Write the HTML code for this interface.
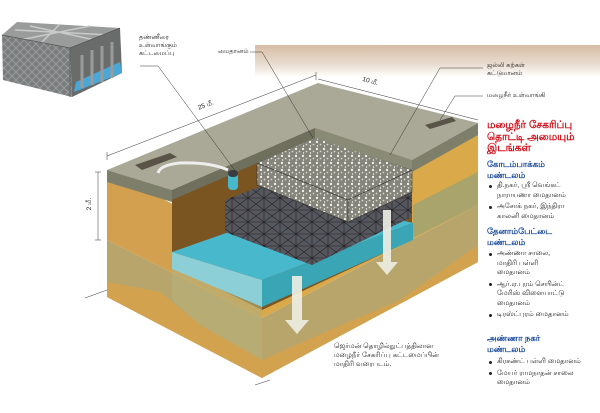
<!DOCTYPE html>
<html><head><meta charset="utf-8"><style>
body{margin:0;width:600px;height:413px;background:#fff;overflow:hidden;position:relative;font-family:"Liberation Sans","Noto Sans CJK SC",sans-serif}
.t{position:absolute;font-size:6.5px;line-height:8px;color:#222;white-space:nowrap}
.p{position:absolute;left:487px;color:#222;font-size:7px;line-height:9.5px;white-space:nowrap}
.h1{color:#d0101a;font-size:10.5px;line-height:11.5px;font-weight:bold}
.h2{color:#1a4a9a;font-size:8.5px;line-height:10.5px;font-weight:bold}
.b{padding-left:10px;position:relative;margin-bottom:2px}
.b:before{content:"";position:absolute;left:2px;top:3.5px;width:3px;height:3px;border-radius:50%;background:#222}
</style></head><body>
<svg width="600" height="413" style="position:absolute;left:0;top:0">
<defs>
<linearGradient id="sand" x1="0" y1="0" x2="0" y2="1"><stop offset="0" stop-color="#d6bca6"/><stop offset="0.6" stop-color="#e9ddd0"/><stop offset="1" stop-color="#fff"/></linearGradient>
<pattern id="grav" width="7" height="7" patternUnits="userSpaceOnUse"><rect width="7" height="7" fill="#84847a"/><circle cx="2" cy="2" r="1.2" fill="#eeeee6"/><circle cx="5.5" cy="4.5" r="0.9" fill="#d8d8d0"/><circle cx="2.5" cy="6" r="0.7" fill="#f4f4ee"/></pattern>
<pattern id="mesh" width="16" height="12" patternUnits="userSpaceOnUse"><rect width="16" height="12" fill="#56565e"/><path d="M0 0L16 12M16 0L0 12M8 0V12M0 6H16" stroke="#222" stroke-width="0.6"/></pattern>
<pattern id="lat" width="8" height="8" patternUnits="userSpaceOnUse"><rect width="8" height="8" fill="#7a7d7d"/><path d="M0 0L8 8M8 0L0 8" stroke="#9da0a0" stroke-width="0.8"/></pattern>
</defs>
<rect x="255" y="45" width="345" height="32" fill="url(#sand)"/>
<polygon points="2,35 17,22 120,28 70,48" fill="#9a9c9c"/>
<path d="M15,30L110,35M30,26L95,40M60,24L40,44M90,26L20,40" stroke="#c8caca" stroke-width="1.5"/>
<polygon points="2,35 70,48 72,97 3,80" fill="url(#lat)"/>
<polygon points="70,48 120,28 122,73 72,97" fill="#6a6c6c"/>
<polygon points="76,82 120,62 122,73 74,92" fill="#4aa8d8"/>
<path d="M82,55V88M92,50V85M102,46V82M112,42V78" stroke="#9a9c9c" stroke-width="3"/>
<path d="M2,35L70,48L120,28M70,48V97" stroke="#555" stroke-width="0.8" fill="none"/>
<polygon points="107,240 262,318 478,205 478,262 262,378 107,297" fill="#b7a56c"/>
<polygon points="107,282 160,292 200,325 262,360 330,330 400,300 478,245 478,262 262,378 107,297" fill="#d3a24e"/>
<polygon points="107,170 262,250 262,318 107,240" fill="#d2a04e"/>
<polygon points="262,250 478,125 478,205 262,318" fill="#d9a94a"/>
<polygon points="413,205 478,172 478,205 413,238" fill="#a9a46c"/>
<polygon points="172,190 315,128 412,160 412,240 262,310 172,265" fill="#7a5522"/>
<polygon points="172,252 320,200 413,223 262,280" fill="#48b8cc"/>
<polygon points="172,252 262,280 262,307 172,269" fill="#8ccfd6"/>
<polygon points="262,280 413,223 413,240 262,307" fill="#3aa5b5"/>
<polygon points="172,269 262,307 262,360 200,325 172,300" fill="#b8b27a" opacity="0.6"/>
<polygon points="225,200 290,175 412,192 312,245" fill="url(#mesh)"/>
<polygon points="225,200 312,245 312,265 225,232" fill="url(#mesh)"/>
<polygon points="312,245 412,192 412,217 312,265" fill="url(#mesh)"/>
<polygon points="257,163 315,137 412,170 348,200" fill="url(#grav)" stroke="#333" stroke-width="0.6"/>
<polygon points="257,163 348,200 348,222 257,185" fill="url(#grav)" stroke="#333" stroke-width="0.6"/>
<polygon points="348,200 412,170 412,192 348,222" fill="url(#grav)" stroke="#333" stroke-width="0.6"/>
<polygon points="107,170 318,83 478,123 412,160 315,128 172,190" fill="#aaa897"/>
<polygon points="107,170 172,190 172,202 107,182" fill="#7e7f6a"/>
<polygon points="172,190 315,128 315,138 172,200" fill="#6e6f5c"/>
<polygon points="315,128 412,160 412,170 315,138" fill="#8a8b76"/>
<polygon points="412,160 478,123 478,135 412,172" fill="#7e7f6a"/>
<polygon points="135,165 170,153 177,157 142,170" fill="#5a5448"/>
<polygon points="425,125 452,117 456,121 430,129" fill="#5a5448"/>
<path d="M158,173 Q160,165 180,163 Q210,162 228,170" stroke="#eee" stroke-width="3" fill="none"/>
<rect x="228" y="172" width="10" height="18" rx="4" fill="#48b8cc"/>
<rect x="228" y="170" width="10" height="7" rx="4" fill="#3a3c44"/>
<polygon points="292,276 302,276 302,320 309,320 297,334 285,320 292,320" fill="#eef0e4" opacity="0.9"/>
<polygon points="383,210 391,210 391,262 398,262 387,275 376,262 383,262" fill="#eef0e4" opacity="0.9"/>
<g stroke="#333" stroke-width="0.5" fill="none">
<path d="M107,156 L316,75 M316,72V80 M107,152V160"/>
<path d="M318,79 L478,120"/>
<path d="M98,172V240 M95,172H101 M95,240H101"/>
<path d="M140,66 L158,66 L236,172"/>
<path d="M250,52 L262,52 L313,138"/>
<path d="M483,68 L440,68 L390,155"/>
<path d="M483,96 L455,96 L440,120"/>
<path d="M85,298 L107,290 M255,385 L270,380"/>
</g>
</svg>
<div class="t" style="left:139px;top:34px">தண்ணீரை<br>உள்வாங்கும்<br>கட்டமைப்பு</div>
<div class="t" style="left:218px;top:48px">மைதானம்</div>
<div class="t" style="left:487px;top:62px">ஜல்லி கற்கள்<br>கட்டுமானம்</div>
<div class="t" style="left:487px;top:92px">மழைநீர் உள்வாங்கி</div>
<div class="t" style="left:198px;top:102px;transform:rotate(-20deg)">25 மீ.</div>
<div class="t" style="left:362px;top:78px;transform:rotate(16deg)">10 மீ.</div>
<div class="t" style="left:84px;top:200px;transform:rotate(-90deg)">2 மீ.</div>
<div class="t" style="left:334px;top:342px;font-size:7px;line-height:9px">ஜெர்மன் தொழில்நுட்பத்திலான<br>மழைநீர் சேகரிப்பு கட்டமைப்பின்<br>மாதிரி வரைபடம்.</div>
<div class="p h1" style="top:120px">மழைநீர் சேகரிப்பு<br>தொட்டி அமையும்<br>இடங்கள்</div>
<div class="p h2" style="top:159px">கோடம்பாக்கம்<br>மண்டலம்</div>
<div class="p" style="top:181px"><div class="b">தி.நகர், ஸ்ரீ வெங்கட்<br>நாராயணா மைதானம்</div><div class="b">அசோக் நகர், இந்திரா<br>காலனி மைதானம்</div></div>
<div class="p h2" style="top:226px">தேனாம்பேட்டை<br>மண்டலம்</div>
<div class="p" style="top:249px"><div class="b">அண்ணா சாலை,<br>மாதிரி பள்ளி<br>மைதானம்</div><div class="b">ஆர்.ஏ.புரம் செயின்ட்<br>மேரிஸ் விளையாட்டு<br>மைதானம்</div><div class="b">டிரஸ்ட்புரம் மைதானம்</div></div>
<div class="p h2" style="top:333px">அண்ணா நகர்<br>மண்டலம்</div>
<div class="p" style="top:357px"><div class="b">கிரசண்ட் பள்ளி மைதானம்</div><div class="b">மேயர் ராமநாதன் சாலை<br>மைதானம்</div></div>
</body></html>
